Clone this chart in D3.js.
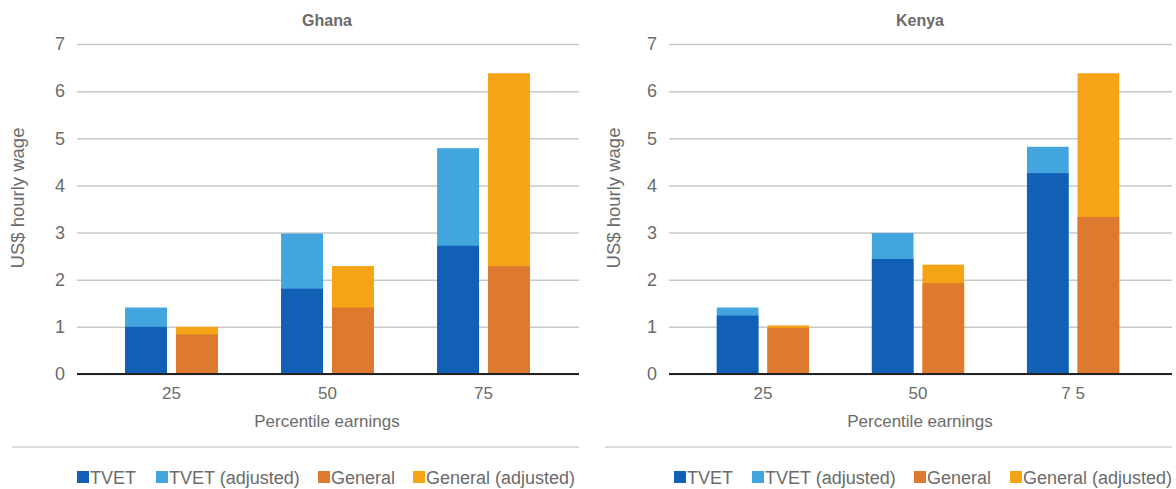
<!DOCTYPE html>
<html><head><meta charset="utf-8">
<script src="https://cdn.jsdelivr.net/npm/d3@7"></script>
<style>
body{margin:0;background:#fff;}
text{font-family:"Liberation Sans",Arial,sans-serif;}
</style></head>
<body><svg id="chart" width="1176" height="489"></svg>
<script>
const categoriesGhana = ["25","50","75"];
const categoriesKenya = ["25","50","7 5"];
const yTicks = [0,1,2,3,4,5,6,7];
const seriesNames = ["TVET","TVET (adjusted)","General","General (adjusted)"];
const seriesColors = ["#1160b5","#42a5de","#de7a2f","#f5a416"];

const ghanaTvet = [1.00, 1.81, 2.72];
const ghanaTvetAdj = [1.41, 2.98, 4.79];
const ghanaGeneral = [0.84, 1.41, 2.29];
const ghanaGeneralAdj = [1.00, 2.29, 6.38];

const kenyaTvet = [1.24, 2.44, 4.26];
const kenyaTvetAdj = [1.41, 2.99, 4.82];
const kenyaGeneral = [0.98, 1.93, 3.33];
const kenyaGeneralAdj = [1.03, 2.32, 6.38];

const svg = d3.select("#chart");
const y = d3.scaleLinear().domain([0,7]).range([374,44]);

function panel(o){
  const g = svg.append("g");
  const x0 = d3.scaleBand().domain(o.cats).range([o.left,o.bandRight]).paddingInner(0.405).paddingOuter(0.308);
  const x1 = d3.scaleBand().domain(["TVET","General"]).range([0,x0.bandwidth()]).paddingInner(0.176);
  const ya = g.append("g").attr("transform",`translate(${o.left},0)`)
    .call(d3.axisLeft(y).tickValues(yTicks).tickFormat(d3.format("d")).tickSize(-(o.right-o.left)).tickPadding(12));
  ya.select(".domain").remove();
  ya.selectAll(".tick line").attr("stroke","#c8c8c8").attr("stroke-width",1.5);
  ya.selectAll(".tick text").attr("fill","#6b6b6b").attr("font-size",18).attr("font-family","Liberation Sans, Arial, sans-serif");
  const groups = [
    {key:"TVET", adj:o.tvetAdj, base:o.tvet, cAdj:seriesColors[1], c:seriesColors[0]},
    {key:"General", adj:o.genAdj, base:o.gen, cAdj:seriesColors[3], c:seriesColors[2]}
  ];
  groups.forEach(s=>{
    g.append("g").selectAll("rect").data(o.cats).join("rect")
      .attr("x",(d)=>x0(d)+x1(s.key)).attr("width",x1.bandwidth())
      .attr("y",(d,i)=>y(s.adj[i])).attr("height",(d,i)=>y(0)-y(s.adj[i]))
      .attr("fill",s.cAdj);
    g.append("g").selectAll("rect").data(o.cats).join("rect")
      .attr("x",(d)=>x0(d)+x1(s.key)).attr("width",x1.bandwidth())
      .attr("y",(d,i)=>y(s.base[i])).attr("height",(d,i)=>y(0)-y(s.base[i]))
      .attr("fill",s.c);
  });
  const xa = g.append("g").attr("transform",`translate(0,${y(0)})`)
    .call(d3.axisBottom(x0).tickSize(0).tickPadding(13));
  xa.select(".domain").remove();
  xa.selectAll(".tick text").attr("fill","#6b6b6b").attr("font-size",17).attr("font-family","Liberation Sans, Arial, sans-serif");
  g.append("line").attr("x1",o.left).attr("x2",o.right).attr("y1",y(0)).attr("y2",y(0))
    .attr("stroke","#222").attr("stroke-width",2.2);
  g.append("text").attr("x",o.titleX).attr("y",26).attr("text-anchor","middle")
    .attr("font-size",16).attr("font-weight","bold").attr("fill","#6b6b6b").text(o.title);
  g.append("text").attr("transform",`translate(${o.yTitleX},198) rotate(-90)`).attr("text-anchor","middle")
    .attr("font-size",18.5).attr("fill","#6b6b6b").text("US$ hourly wage");
  g.append("text").attr("x",o.titleX).attr("y",427).attr("text-anchor","middle")
    .attr("font-size",17).attr("fill","#6b6b6b").text("Percentile earnings");
  g.append("line").attr("x1",o.sepLeft).attr("x2",o.right).attr("y1",447).attr("y2",447)
    .attr("stroke","#dcdcdc").attr("stroke-width",2);
  const lg = g.append("g").selectAll("g").data(seriesNames).join("g")
    .attr("transform",(d,i)=>`translate(${o.legendX[i]},477)`);
  lg.append("rect").attr("x",0).attr("y",-6).attr("width",12).attr("height",12).attr("fill",(d,i)=>seriesColors[i]);
  lg.append("text").attr("x",13).attr("y",6.5).attr("font-size",18).attr("fill","#6b6b6b").text(d=>d);
}

panel({cats:categoriesGhana,left:77,right:579,bandRight:578,tvet:ghanaTvet,tvetAdj:ghanaTvetAdj,gen:ghanaGeneral,genAdj:ghanaGeneralAdj,
  title:"Ghana",titleX:327,yTitleX:24,sepLeft:12,legendX:[77,156,318,413]});
panel({cats:categoriesKenya,left:669,right:1172,bandRight:1167,tvet:kenyaTvet,tvetAdj:kenyaTvetAdj,gen:kenyaGeneral,genAdj:kenyaGeneralAdj,
  title:"Kenya",titleX:920,yTitleX:620,sepLeft:605,legendX:[674,752,914,1010]});
</script></body></html>
